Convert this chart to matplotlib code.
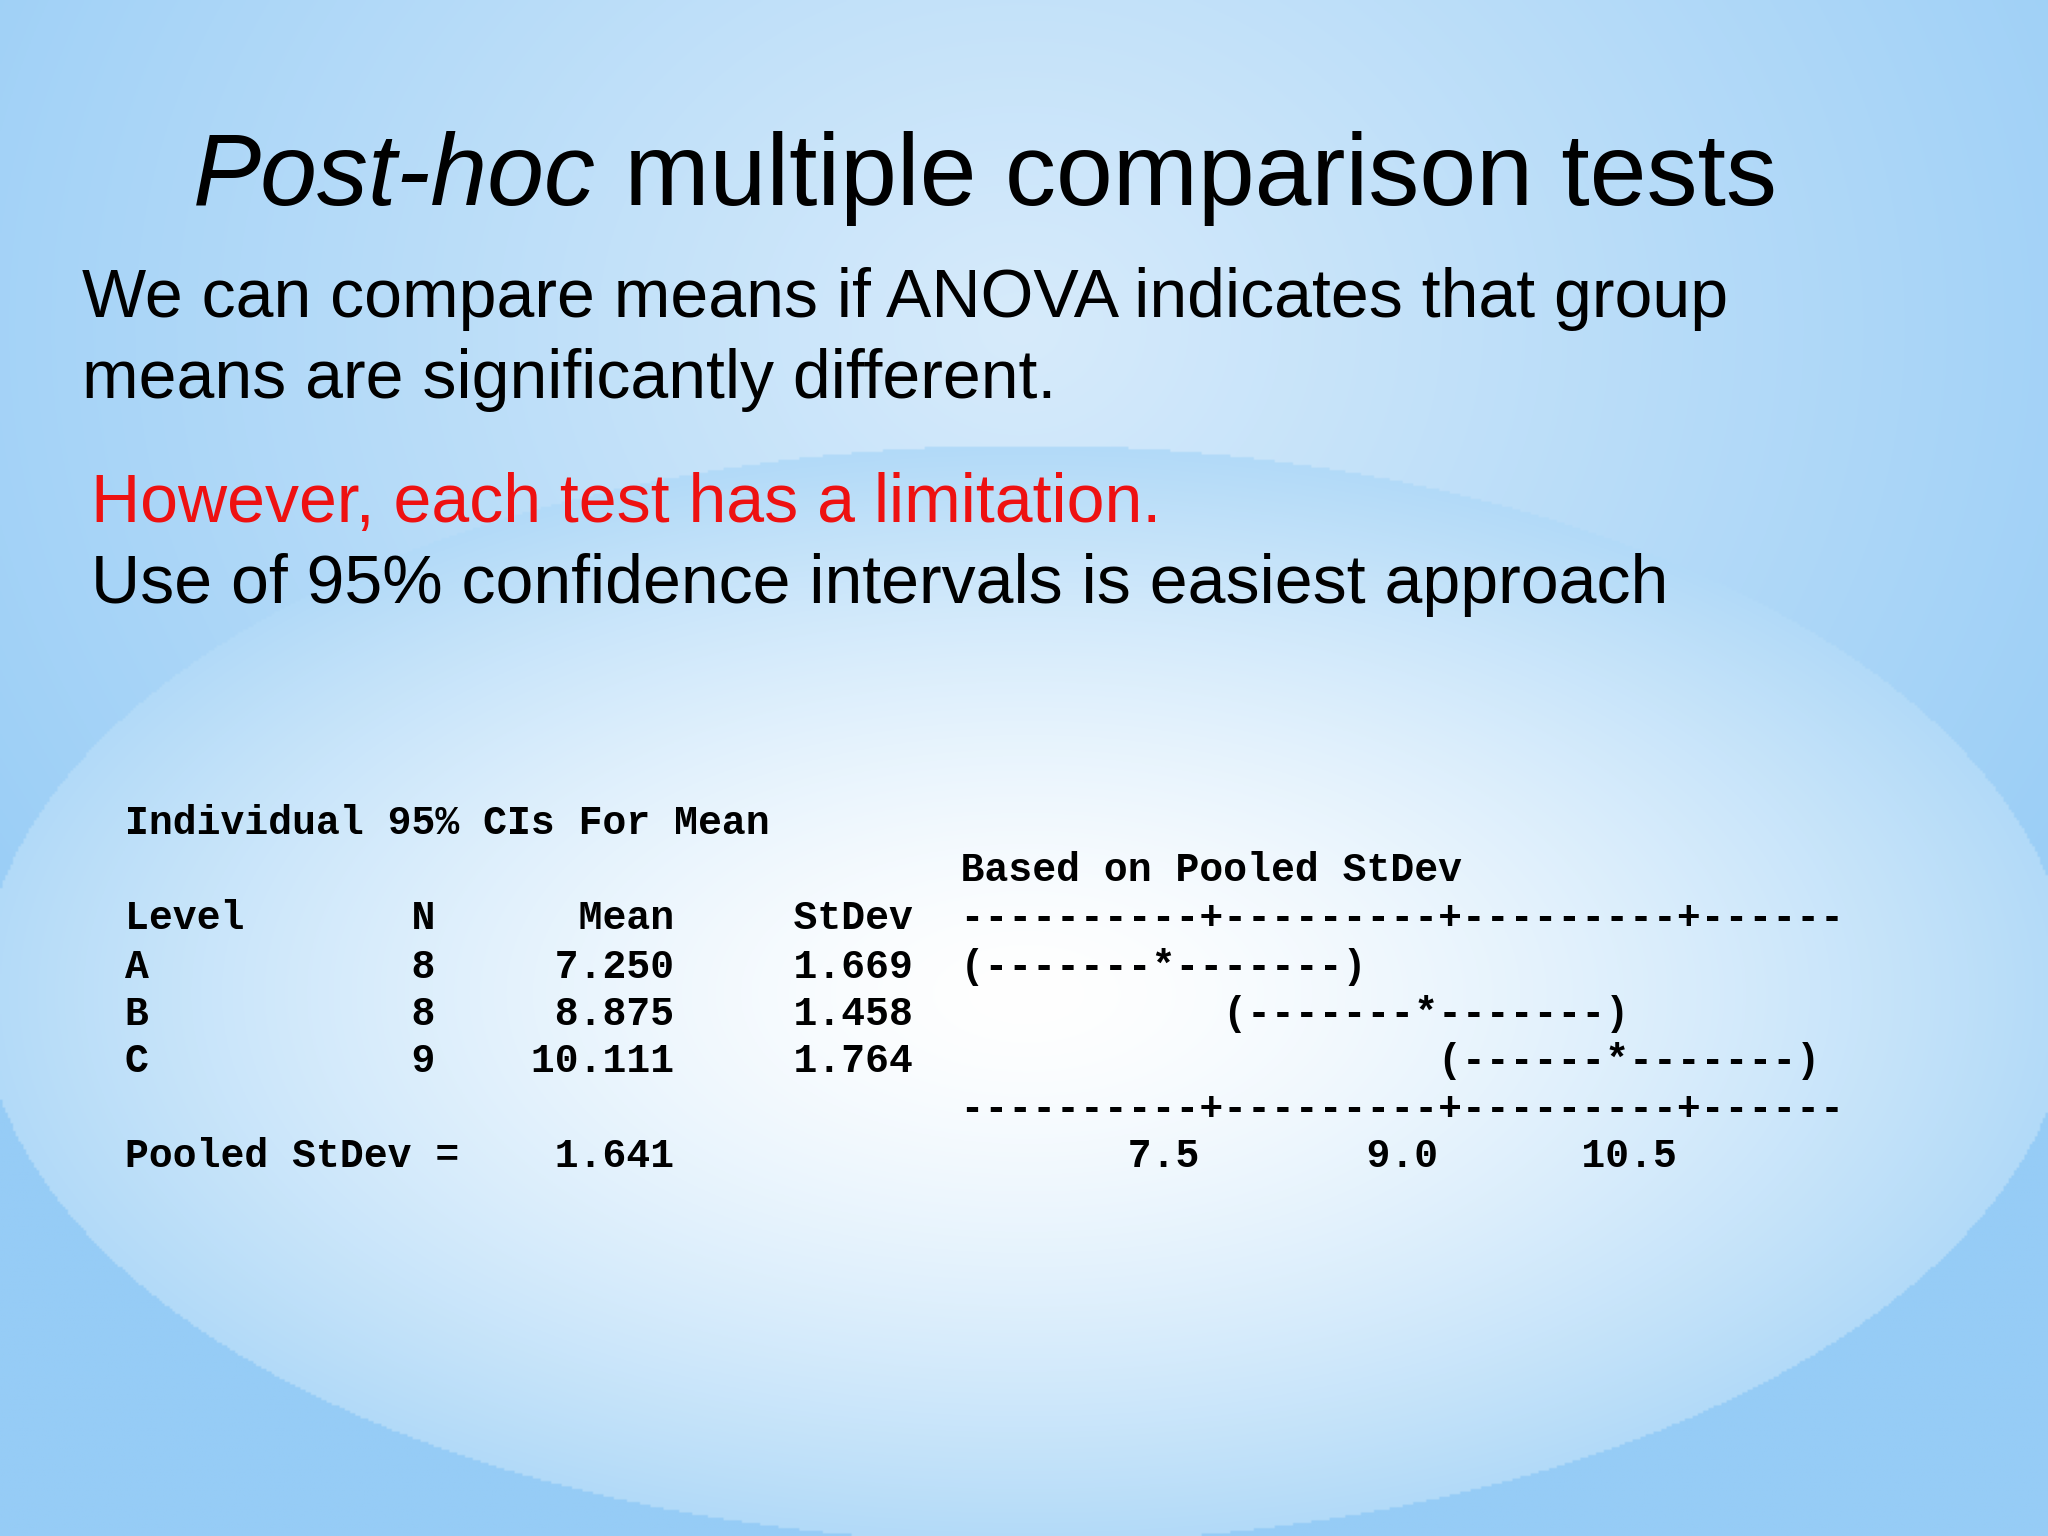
import numpy as np
import matplotlib
matplotlib.use("Agg")
import matplotlib.pyplot as plt

levels = ["A", "B", "C"]
ns = [8, 8, 9]
means = [7.250, 8.875, 10.111]
stdevs = [1.669, 1.458, 1.764]
pooled_sd = 1.641
t_crit = [2.074, 2.074, 2.074]
axis_ticks = [7.5, 9.0, 10.5]

W, H = 1568, 1176
fig = plt.figure(figsize=(20.48, 15.36), dpi=100)
ax = fig.add_axes([0, 0, 1, 1])
ax.set_xlim(0, W); ax.set_ylim(H, 0); ax.axis("off")

# background
yy, xx = np.mgrid[0:H:2, 0:W:2]
edge = np.array([150, 204, 246]) / 255
base_t = np.clip(np.sqrt(((xx - 780) / 1000) ** 2 + ((yy - 250) / 850) ** 2), 0, 1)
light = np.array([215, 235, 251]) / 255
img = light[None, None, :] * (1 - base_t[..., None]) + edge[None, None, :] * base_t[..., None]
r = np.sqrt(((xx - 785) / 800) ** 2 + ((yy - 760) / 420) ** 2)
inside = r < 1
t2 = np.clip(r, 0, 1) ** 1.5
white = np.array([1, 1, 1.0])
ell = white[None, None, :] * (1 - t2[..., None]) + np.array([178, 218, 248])[None, None, :] / 255 * t2[..., None]
img = np.where(inside[..., None], ell, img)
ax.imshow(img, extent=[0, W, H, 0], aspect="auto", zorder=0)

sans = "Liberation Sans"
fig.canvas.draw()
r_ = fig.canvas.get_renderer()
t1 = ax.text(148, 157, "Post-hoc", fontsize=73.5, family=sans, style="italic", va="baseline")
bb = t1.get_window_extent(r_)
x_end = ax.transData.inverted().transform((bb.x1, bb.y0))[0]
ax.text(x_end, 157, " multiple comparison tests", fontsize=73.5, family=sans, va="baseline")

fs = 49
ax.text(63, 243, "We can compare means if ANOVA indicates that group", fontsize=fs, family=sans, va="baseline")
ax.text(63, 305, "means are significantly different.", fontsize=fs, family=sans, va="baseline")
ax.text(70, 400, "However, each test has a limitation.", fontsize=fs, family=sans, va="baseline", color="#ee1111")
ax.text(70, 462, "Use of 95% confidence intervals is easiest approach", fontsize=fs, family=sans, va="baseline")

# Minitab output
def ci_line(m, n, t):
    hw = t * pooled_sd / np.sqrt(n)
    pos = lambda v: int(round(10 + (v - axis_ticks[0]) / 0.15))
    lft, st, rt = pos(m - hw), pos(m), pos(m + hw)
    s = [" "] * 40
    for i in range(lft + 1, rt):
        s[i] = "-"
    s[lft] = "("; s[st] = "*"; s[rt] = ")"
    return "".join(s).rstrip()

axis_line = "----------+---------+---------+------"
lab = [" "] * 40
for k, v in enumerate(axis_ticks):
    txt = f"{v:.1f}"
    end = 10 * (k + 1)
    lab[end - len(txt):end] = list(txt)
label_line = "".join(lab).rstrip()

lines = [
    "Individual 95% CIs For Mean",
    " " * 35 + "Based on Pooled StDev",
    f"{'Level':<12}N{'Mean':>10}{'StDev':>10}  " + axis_line,
]
for lv, n, m, sd, t in zip(levels, ns, means, stdevs, t_crit):
    lines.append(f"{lv:<12}{n}{m:>10.3f}{sd:>10.3f}  " + ci_line(m, n, t))
lines.append(" " * 35 + axis_line)
lines.append(f"{'Pooled StDev =':<14}{pooled_sd:>9.3f}" + " " * 12 + label_line)
ys = [630, 666, 703, 740, 776, 812, 849, 885]
for s, y in zip(lines, ys):
    ax.text(96, y, s, fontsize=28.6, family="Liberation Mono", weight="bold", va="center")

fig.savefig("out.png", dpi=100)
